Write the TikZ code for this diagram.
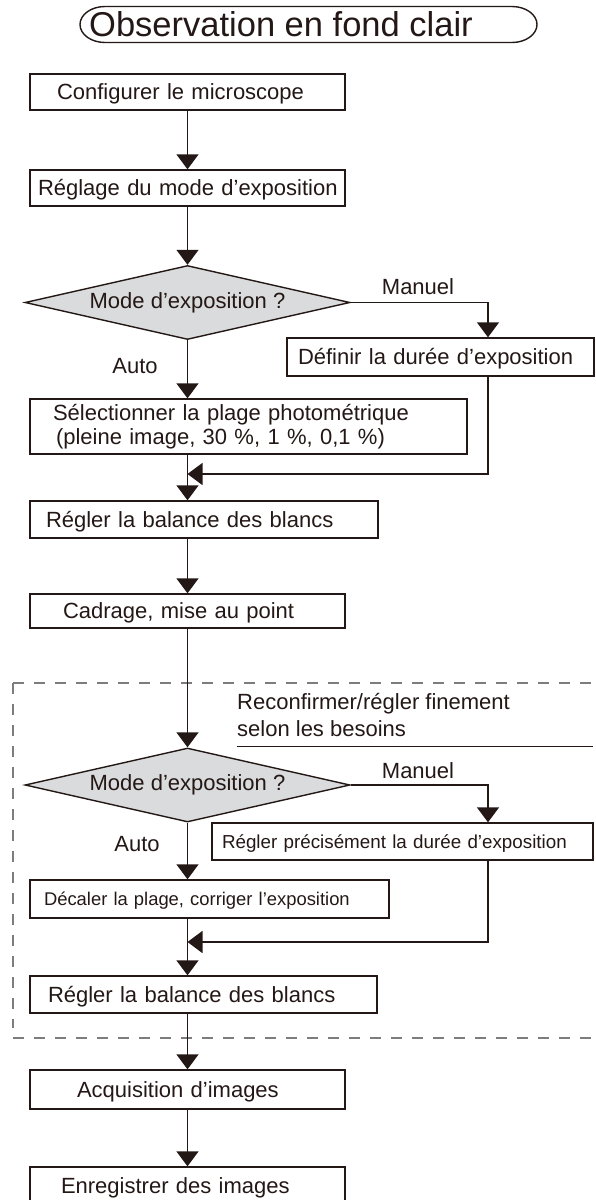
\documentclass[tikz,border=0pt]{standalone}
\usepackage{fontspec}
\setmainfont{Liberation Sans}
\usetikzlibrary{arrows.meta,shapes.geometric,calc}
\definecolor{ink}{RGB}{35,24,21}
\definecolor{dfill}{RGB}{218,219,220}
\definecolor{dgray}{RGB}{125,125,125}
\newcommand{\fz}[1]{\fontsize{#1}{#1}\selectfont}
\begin{document}
\begin{tikzpicture}[x=1pt,y=-1pt,
  conn/.style={draw=ink,line width=1.5pt},
  arr/.style={conn,-{Triangle[width=22pt,length=15pt]}},
  framebox/.style={draw=ink,line width=1.4pt,rectangle,inner ysep=0pt,align=left,text=ink},
  stepbox/.style={framebox,font=\fz{22},text height=15.8pt,text depth=0pt},
  smallbox/.style={framebox,font=\fz{18.4},text height=13.2pt,text depth=0pt},
  decision/.style={diamond,draw=ink,fill=dfill,line width=1.4pt,inner sep=0pt,aspect=4.4,
    minimum width=325pt,minimum height=74pt,font=\fz{22},text=ink},
  lab/.style={font=\fz{22},text=ink,inner sep=0pt},
  dashline/.style={draw=dgray,line width=1.1pt,dash pattern=on 11pt off 10pt}
]
\useasboundingbox (0,0) rectangle (595,1200);
% title
\draw[ink,line width=1.4pt] (105,6.5) -- (512,6.5)
  arc[start angle=-90,end angle=90,x radius=25,y radius=18] -- (105,42.5)
  arc[start angle=90,end angle=270,x radius=25,y radius=18] -- cycle;
\node[lab,font=\fz{34.5},anchor=west,text height=24.8pt,text depth=0pt] (title) at (89,24.5) {Observation en fond clair};

\coordinate (sp) at (187.5,0);
\coordinate (mx) at (488,0);
\coordinate (m1) at (187.5,474);
\coordinate (m2) at (187.5,942);

\node[stepbox,minimum height=36pt,inner xsep=27pt,text width=261pt] (b1) at (187.5,92) {\mbox{Configurer le microscope}};
\node[stepbox,minimum height=36pt,inner xsep=8pt,text width=299pt] (b2) at (187.5,188) {\mbox{Réglage du mode d’exposition}};
\node[decision] (d1) at (187.5,302.5) {Mode d’exposition ?};
\node[lab] (man1) at (418,287) {Manuel};
\node[lab] (auto1) at (135,366) {Auto};
\node[stepbox,minimum height=38pt,inner xsep=11pt,text width=285pt] (def) at (440.5,357) {\mbox{Définir la durée d’exposition}};
\node[framebox,minimum height=55pt,inner xsep=23pt,text width=391pt,font=\fontsize{22}{24}\selectfont] (sel) at (248.5,426.5) {Sélectionner la plage photométrique\\\hspace*{3pt}(pleine image, 30 \%, 1 \%, 0,1 \%)};
\node[stepbox,minimum height=37pt,inner xsep=16pt,text width=316pt] (bal1) at (204,519.5) {\mbox{Régler la balance des blancs}};
\node[stepbox,minimum height=34pt,inner xsep=33pt,text width=249pt] (cad) at (187.5,611) {\mbox{Cadrage, mise au point}};

% dashed frame
\draw[dashline] (13,683) -- (595,683);
\draw[dashline] (13,683) -- (13,1028);
\draw[dashline] (13,1038) -- (595,1038);
\node[lab,anchor=north west,align=left,font=\fontsize{22}{27}\selectfont] (rc) at (237,693) {Reconfirmer/régler finement\\selon les besoins};
\draw[ink,line width=0.9pt] (237,746) -- (593,746);

\node[decision] (d2) at (187.5,785) {Mode d’exposition ?};
\node[lab] (man2) at (418,771) {Manuel};
\node[lab] (auto2) at (137,844) {Auto};
\node[smallbox,minimum height=37pt,inner xsep=10pt,text width=361pt,font=\fz{18.8}] (reg) at (402.5,841.5) {\mbox{Régler précisément la durée d’exposition}};
\node[smallbox,minimum height=38pt,inner xsep=14pt,text width=331pt] (dec) at (209.5,899) {\mbox{Décaler la plage, corriger l’exposition}};
\node[stepbox,minimum height=37pt,inner xsep=18pt,text width=311pt] (bal2) at (203.5,994.5) {\mbox{Régler la balance des blancs}};
\node[stepbox,minimum height=39pt,inner xsep=47pt,text width=221pt] (acq) at (187.5,1089.5) {\mbox{Acquisition d’images}};
\node[stepbox,minimum height=38pt,inner xsep=31pt,text width=253pt] (enr) at (187.5,1186) {\mbox{Enregistrer des images}};

% connectors
\draw[arr] (b1) -- (b2);
\draw[arr] (b2) -- (d1);
\draw[arr] (d1.east) -| (def.north -| mx);
\draw[arr] (d1.south) -- (sel.north -| sp);
\draw[arr] (def.south -| mx) |- (m1);
\draw[arr] (sel.south -| sp) -- (bal1.north -| sp);
\draw[arr] (bal1.south -| sp) -- (cad.north -| sp);
\draw[arr] (cad) -- (d2);
\draw[arr] (d2.east) -| (reg.north -| mx);
\draw[arr] (d2.south) -- (dec.north -| sp);
\draw[arr] (reg.south -| mx) |- (m2);
\draw[arr] (dec.south -| sp) -- (bal2.north -| sp);
\draw[arr] (bal2.south -| sp) -- (acq.north -| sp);
\draw[arr] (acq) -- (enr);
\end{tikzpicture}
\end{document}
